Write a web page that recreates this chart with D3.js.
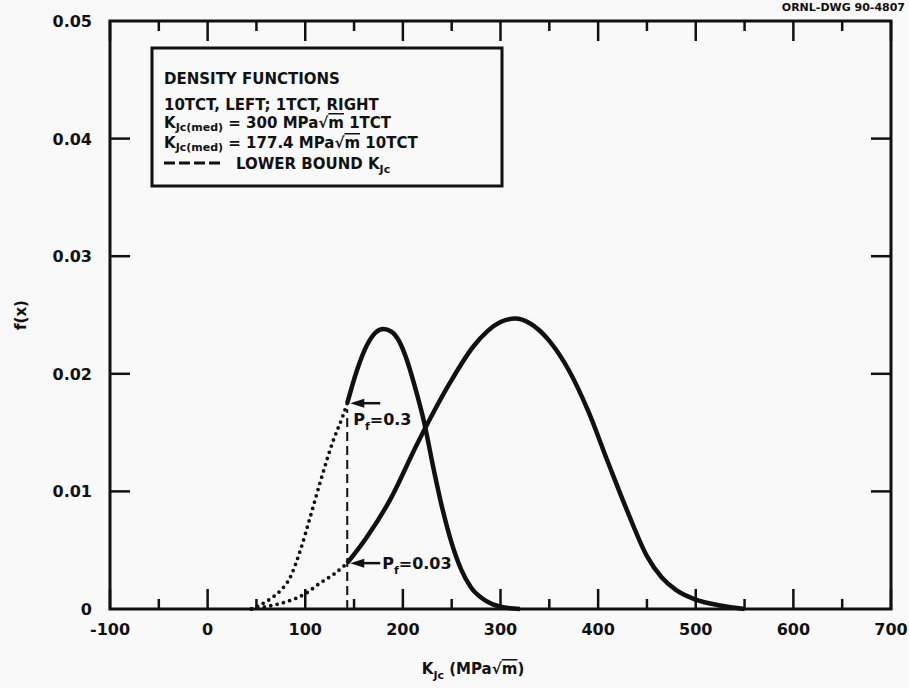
<!DOCTYPE html>
<html>
<head>
<meta charset="utf-8">
<script src="https://cdn.jsdelivr.net/npm/d3@7"></script>
<style>
  body { margin: 0; background: #f9f9f9; }
  text { font-family: "DejaVu Sans", sans-serif; font-weight: bold; fill: #111; }
</style>
</head>
<body>
<script>
// tick values
const xTicksMajor = [-100, 0, 100, 200, 300, 400, 500, 600, 700];
const xTicksMinor = [-50, 50, 150, 250, 350, 450, 550, 650];
const yTicks = [0, 0.01, 0.02, 0.03, 0.04, 0.05];
const yTickLabels = ['0', '0.01', '0.02', '0.03', '0.04', '0.05'];

// 10TCT (left) density
const leftK = [45, 55, 65, 75, 84, 95, 105, 115, 129, 138, 143, 153, 163, 172, 180, 188, 196, 204, 212, 222, 231, 240, 250, 260, 270, 285, 300, 320];
const leftF = [0, 0.0004, 0.0009, 0.0016, 0.0026, 0.005, 0.0078, 0.0107, 0.0144, 0.0163, 0.0175, 0.0203, 0.0224, 0.0235, 0.0238, 0.0236, 0.0228, 0.0212, 0.019, 0.0158, 0.0121, 0.0087, 0.0056, 0.0033, 0.0018, 0.0007, 0.0002, 0];

// 1TCT (right) density
const rightK = [45, 60, 80, 100, 115, 130, 143, 163, 187, 215, 248, 272, 300, 315, 330, 350, 370, 390, 410, 430, 450, 465, 480, 500, 525, 550];
const rightF = [0, 0.0002, 0.0006, 0.0013, 0.0022, 0.003, 0.0039, 0.0061, 0.0093, 0.0141, 0.0192, 0.0223, 0.0244, 0.0247, 0.0243, 0.0228, 0.0203, 0.0168, 0.0125, 0.0083, 0.0045, 0.0027, 0.0016, 0.0008, 0.0003, 0];

// lower bound and failure probabilities there
const lowerBoundK = 143;
const pfValues = ['0.3', '0.03'];
const pfF = [0.0175, 0.0039];

const legendLines = ['DENSITY FUNCTIONS', '10TCT, LEFT; 1TCT, RIGHT'];
const medians = [['300', '1TCT'], ['177.4', '10TCT']];

const margin = { top: 21, right: 18, bottom: 79, left: 110 };
const W = 909, H = 688;
const width = W - margin.left - margin.right;
const height = H - margin.top - margin.bottom;

const svg = d3.select('body').append('svg')
  .attr('width', W)
  .attr('height', H);

const g = svg.append('g')
  .attr('transform', `translate(${margin.left},${margin.top})`);

const x = d3.scaleLinear().domain([-100, 700]).range([0, width]);
const y = d3.scaleLinear().domain([0, 0.05]).range([height, 0]);

const line = d3.line()
  .x(d => x(d[0]))
  .y(d => y(d[1]))
  .curve(d3.curveMonotoneX);

function drawCurve(ks, fs) {
  const pts = ks.map((k, i) => [k, fs[i]]);
  const dotted = pts.filter(p => p[0] <= lowerBoundK);
  const solid = pts.filter(p => p[0] >= lowerBoundK);
  g.append('path')
    .attr('d', line(dotted))
    .attr('fill', 'none')
    .attr('stroke', '#111')
    .attr('stroke-width', 3.8)
    .attr('stroke-linecap', 'round')
    .attr('stroke-dasharray', '0 6.5');
  g.append('path')
    .attr('d', line(solid))
    .attr('fill', 'none')
    .attr('stroke', '#111')
    .attr('stroke-width', 4.5)
    .attr('stroke-linejoin', 'round');
}

drawCurve(leftK, leftF);
drawCurve(rightK, rightF);

// lower bound dashed line
g.append('line')
  .attr('x1', x(lowerBoundK)).attr('x2', x(lowerBoundK))
  .attr('y1', y(0)).attr('y2', y(pfF[0]) + 6)
  .attr('stroke', '#111')
  .attr('stroke-width', 2)
  .attr('stroke-dasharray', '9 5');

// Pf arrows
pfValues.forEach((v, i) => {
  const yy = y(pfF[i]);
  const x0 = x(lowerBoundK) + 3;
  g.append('line')
    .attr('x1', x0 + 8).attr('x2', x0 + 30)
    .attr('y1', yy).attr('y2', yy)
    .attr('stroke', '#111').attr('stroke-width', 2.5);
  g.append('path')
    .attr('d', `M${x0},${yy}L${x0 + 14},${yy - 4.5}L${x0 + 14},${yy + 4.5}Z`)
    .attr('fill', '#111');
  const lbl = g.append('text')
    .attr('font-size', 16)
    .attr('font-weight', 'normal');
  if (i === 0) {
    lbl.attr('x', x0 + 3).attr('y', yy + 22);
  } else {
    lbl.attr('x', x0 + 32).attr('y', yy + 6);
  }
  lbl.append('tspan').text('P');
  lbl.append('tspan').attr('font-size', 11).attr('dy', 5).text('f');
  lbl.append('tspan').attr('dy', -5).text('=' + v);
});

// frame
g.append('rect')
  .attr('width', width).attr('height', height)
  .attr('fill', 'none')
  .attr('stroke', '#111')
  .attr('stroke-width', 3);

// x ticks top and bottom
const tickStroke = 2.5;
xTicksMajor.forEach(t => {
  g.append('line').attr('x1', x(t)).attr('x2', x(t)).attr('y1', height).attr('y2', height - 20)
    .attr('stroke', '#111').attr('stroke-width', tickStroke);
  g.append('line').attr('x1', x(t)).attr('x2', x(t)).attr('y1', 0).attr('y2', 20)
    .attr('stroke', '#111').attr('stroke-width', tickStroke);
  g.append('text')
    .attr('x', x(t)).attr('y', height + 26)
    .attr('text-anchor', 'middle')
    .attr('font-size', 16)
    .text(t);
});
xTicksMinor.forEach(t => {
  g.append('line').attr('x1', x(t)).attr('x2', x(t)).attr('y1', height).attr('y2', height - 10)
    .attr('stroke', '#111').attr('stroke-width', tickStroke);
  g.append('line').attr('x1', x(t)).attr('x2', x(t)).attr('y1', 0).attr('y2', 10)
    .attr('stroke', '#111').attr('stroke-width', tickStroke);
});

// y ticks left and right
yTicks.forEach((t, i) => {
  if (t > 0 && t < 0.05) {
    g.append('line').attr('x1', 0).attr('x2', 20).attr('y1', y(t)).attr('y2', y(t))
      .attr('stroke', '#111').attr('stroke-width', tickStroke);
    g.append('line').attr('x1', width).attr('x2', width - 20).attr('y1', y(t)).attr('y2', y(t))
      .attr('stroke', '#111').attr('stroke-width', tickStroke);
  }
  g.append('text')
    .attr('x', -18).attr('y', y(t) + 6)
    .attr('text-anchor', 'end')
    .attr('font-size', 16)
    .text(yTickLabels[i]);
});

// axis titles
svg.append('text')
  .attr('transform', `translate(26,${margin.top + height / 2}) rotate(-90)`)
  .attr('text-anchor', 'middle')
  .attr('font-size', 15)
  .text('f(x)');

const xt = svg.append('text')
  .attr('x', 473)
  .attr('y', H - 14)
  .attr('text-anchor', 'middle')
  .attr('font-size', 15);
xt.append('tspan').text('K');
xt.append('tspan').attr('font-size', 11).attr('dy', 5).text('Jc');
xt.append('tspan').attr('dy', -5).text(' (MPa\u221A');
xt.append('tspan').attr('text-decoration', 'overline').text('m');
xt.append('tspan').text(')');

// legend box
const lg = svg.append('g').attr('transform', 'translate(152,48)');
lg.append('rect')
  .attr('width', 350).attr('height', 138)
  .attr('fill', '#f9f9f9')
  .attr('stroke', '#111')
  .attr('stroke-width', 3);

legendLines.forEach((s, i) => {
  lg.append('text')
    .attr('x', 12).attr('y', 36 + i * 26)
    .attr('font-size', 15)
    .text(s);
});
medians.forEach((m, i) => {
  const t = lg.append('text')
    .attr('x', 12).attr('y', 80 + i * 20)
    .attr('font-size', 15);
  t.append('tspan').text('K');
  t.append('tspan').attr('font-size', 11).attr('dy', 3).text('Jc(med)');
  t.append('tspan').attr('dy', -3).text(` = ${m[0]} MPa\u221A`);
  t.append('tspan').attr('text-decoration', 'overline').text('m');
  t.append('tspan').text(` ${m[1]}`);
});
lg.append('line')
  .attr('x1', 12).attr('x2', 72)
  .attr('y1', 115).attr('y2', 115)
  .attr('stroke', '#111').attr('stroke-width', 3)
  .attr('stroke-dasharray', '11 4');
const lb = lg.append('text')
  .attr('x', 84).attr('y', 121)
  .attr('font-size', 15);
lb.append('tspan').text('LOWER BOUND K');
lb.append('tspan').attr('font-size', 11).attr('dy', 4).text('Jc');

// drawing number at the top edge
svg.append('text')
  .attr('x', 905).attr('y', 11)
  .attr('text-anchor', 'end')
  .attr('font-size', 11)
  .attr('font-weight', 'normal')
  .text('ORNL-DWG 90-4807');
</script>
</body>
</html>
